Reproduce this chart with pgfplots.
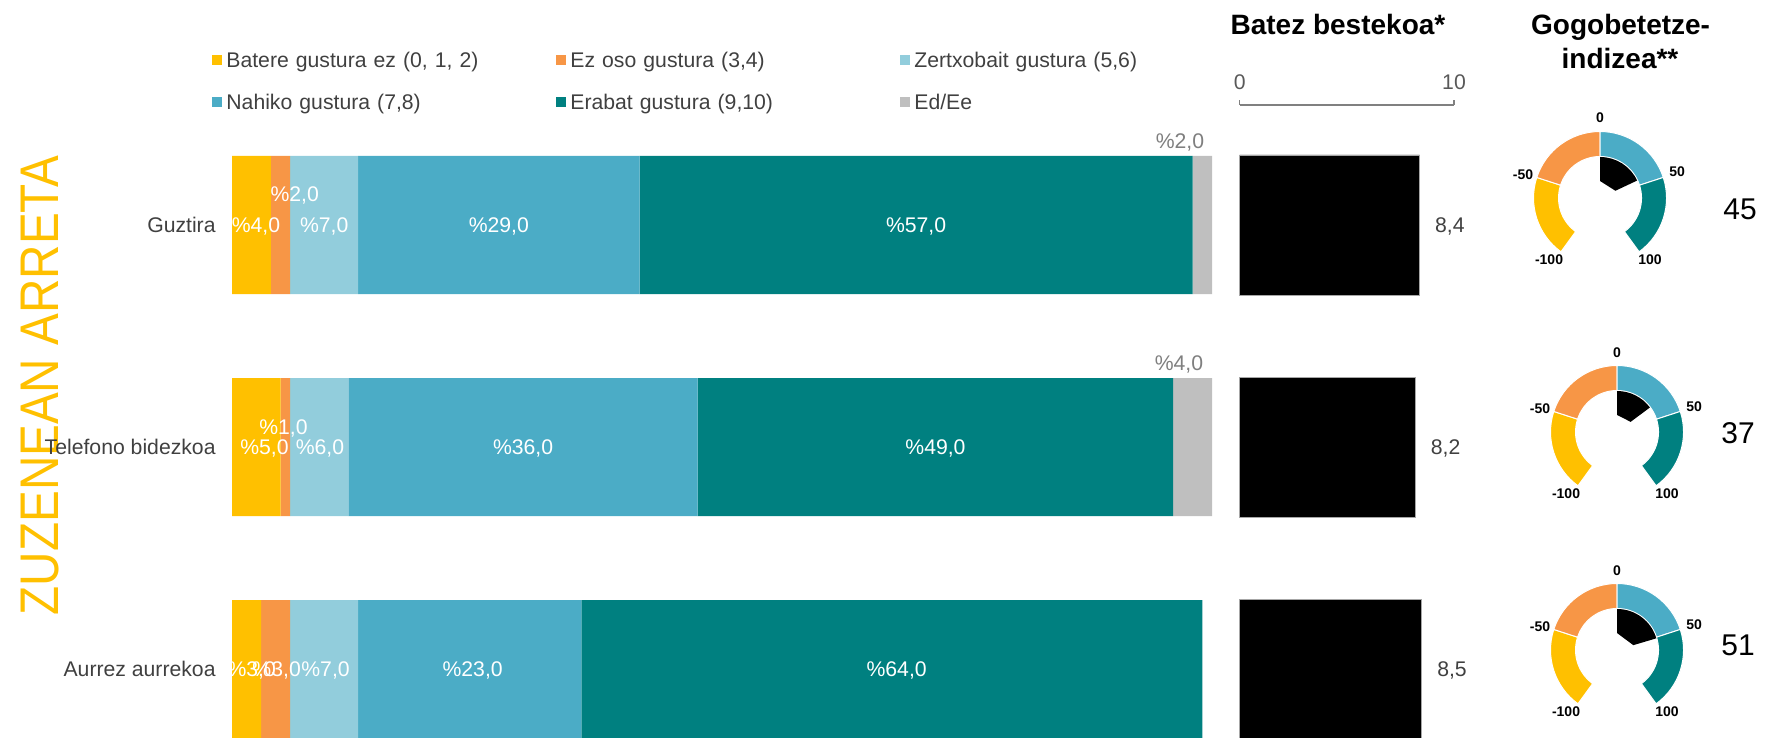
\documentclass[border=0pt]{standalone}
\usepackage{fontspec}
\setmainfont{Liberation Sans}
\usepackage{graphicx}
\usepackage{pgfplots}
\pgfplotsset{compat=1.18}

\definecolor{ylw}{HTML}{FFC000}
\definecolor{org}{HTML}{F79646}
\definecolor{lbl}{HTML}{92CDDC}
\definecolor{blu}{HTML}{4BACC6}
\definecolor{tea}{HTML}{008080}
\definecolor{gry}{HTML}{BFBFBF}
\definecolor{txt}{HTML}{404040}
\definecolor{lgray}{HTML}{7F7F7F}
\definecolor{axgray}{HTML}{808080}
\definecolor{tkgray}{HTML}{595959}

\newcommand\lab{\fontsize{10.6}{12.7}\selectfont}
\newcommand\ttl{\fontsize{14}{17}\selectfont\bfseries}
\newcommand\gfont{\fontsize{7}{8.4}\selectfont\bfseries}
\newcommand\ifont{\fontsize{15}{18}\selectfont}

\tikzset{
  wl/.style={text=white, font=\lab, inner sep=0pt, text height=7.6pt, text depth=0pt},
  gyl/.style={text=lgray, font=\lab, inner sep=0pt, text height=7.6pt, text depth=0pt},
  gl/.style={text=black, font=\gfont, inner sep=0pt, text height=5pt, text depth=0pt},
  idx/.style={text=black, font=\ifont, inner sep=0pt, text height=10.7pt, text depth=0pt},
}

% shared geometry of the stacked-bar panel
\pgfplotsset{distframe/.style={
  at={(116pt,-334.5pt)}, anchor=origin,
  x=4.85149pt, y=111pt,
  xmin=0, xmax=101, ymin=-0.5, ymax=2.5,
  enlargelimits=false, clip=false}}

% one ring segment of a gauge: centre (#1,#2), from angle #3 to #4, colour #5
\newcommand{\gseg}[5]{%
  \filldraw[fill=#5, draw=white, line width=0.5pt]
    (axis cs:#1,#2) ++(#3:33.25pt) arc[start angle=#3, end angle=#4, radius=33.25pt]
    -- ++(#4:-12.5pt) arc[start angle=#4, end angle=#3, radius=20.75pt] -- cycle;}

% gauge from -100 (234 deg) to 100 (-54 deg); needle sector for value #3
\newcommand{\gauge}[3]{%
  \gseg{#1}{#2}{234}{162}{ylw}
  \gseg{#1}{#2}{162}{90}{org}
  \gseg{#1}{#2}{90}{18}{blu}
  \gseg{#1}{#2}{18}{-54}{tea}
  \fill[black] (axis cs:#1,#2) ++(90:8.5pt) -- ++(90:12pt)
    arc[start angle=90, end angle={90-1.44*#3}, radius=20.5pt]
    -- ++({90-1.44*#3}:-12pt) -- cycle;
  \node[gl] at ([shift={(0pt,40pt)}]axis cs:#1,#2) {0};
  \node[gl] at ([shift={(-38.5pt,12pt)}]axis cs:#1,#2) {-50};
  \node[gl] at ([shift={(38.5pt,13pt)}]axis cs:#1,#2) {50};
  \node[gl] at ([shift={(-25.5pt,-30.5pt)}]axis cs:#1,#2) {-100};
  \node[gl] at ([shift={(25pt,-30.5pt)}]axis cs:#1,#2) {100};
}

\begin{document}
\begin{tikzpicture}
\path[use as bounding box] (0pt,0pt) rectangle (883.5pt,-369pt);

% section title
\node[text=ylw, rotate=90, inner sep=0pt, text height=19.5pt, text depth=0pt,
      font=\fontsize{27.2}{30}\selectfont] at (19.5pt,-192.75pt)
      {\scalebox{0.876}[1]{ZUZENEAN ARRETA}};

% column titles
\node[font=\ttl, anchor=base, inner sep=0pt] at (669pt,-17.4pt) {Batez bestekoa*};
\node[font=\ttl, anchor=base, inner sep=0pt] at (810.3pt,-17.4pt) {Gogobetetze-};
\node[font=\ttl, anchor=base, inner sep=0pt] at (810pt,-34.3pt) {indizea**};

% distribution of answers
\begin{axis}[
  distframe,
  xbar stacked, bar width=69pt,
  axis line style={draw=none}, tick style={draw=none},
  xtick=\empty, ytick={0,1,2},
  yticklabels={Aurrez aurrekoa,Telefono bidezkoa,Guztira},
  yticklabel style={font=\lab, text=txt, inner sep=0pt, text height=7.6pt,
                    text depth=0pt, anchor=east, xshift=-8pt},
  legend columns=3,
  legend cell align=left,
  legend image code/.code={\fill[#1] (0pt,-2.6pt) rectangle (5.2pt,2.6pt);},
  legend style={at={(-0.0204,1.0925)}, anchor=north west, draw=none, fill=none,
    inner sep=0pt, outer sep=0pt, row sep=13.4pt, font=\lab, text=txt,
    /tikz/every odd column/.append style={column sep=2pt},
    nodes={inner sep=0pt, text height=7.6pt, text depth=0pt, text width=164.8pt, align=left}},
]
\addplot[fill=ylw, draw=none] coordinates {(4,2) (5,1) (3,0)};
\addlegendentry{Batere gustura ez (0, 1, 2)}
\addplot[fill=org, draw=none] coordinates {(2,2) (1,1) (3,0)};
\addlegendentry{Ez oso gustura (3,4)}
\addplot[fill=lbl, draw=none] coordinates {(7,2) (6,1) (7,0)};
\addlegendentry{Zertxobait gustura (5,6)}
\addplot[fill=blu, draw=none] coordinates {(29,2) (36,1) (23,0)};
\addlegendentry{Nahiko gustura (7,8)}
\addplot[fill=tea, draw=none] coordinates {(57,2) (49,1) (64,0)};
\addlegendentry{Erabat gustura (9,10)}
\addplot[fill=gry, draw=none] coordinates {(2,2) (4,1) (0,0)};
\addlegendentry{Ed/Ee}
\end{axis}

% segment labels, in the same frame, drawn over the bars
\begin{axis}[distframe, hide axis]
\node[wl] at (axis cs:2.47,2) {\%4,0};
\node[wl] at ([yshift=15.5pt]axis cs:6.46,2) {\%2,0};
\node[wl] at (axis cs:9.5,2) {\%7,0};
\node[wl] at (axis cs:27.5,2) {\%29,0};
\node[wl] at (axis cs:70.5,2) {\%57,0};
\node[gyl] at ([yshift=42pt]axis cs:97.7,2) {\%2,0};

\node[wl] at (axis cs:3.35,1) {\%5,0};
\node[wl] at ([yshift=10pt]axis cs:5.3,1) {\%1,0};
\node[wl] at (axis cs:9.07,1) {\%6,0};
\node[wl] at (axis cs:30,1) {\%36,0};
\node[wl] at (axis cs:72.5,1) {\%49,0};
\node[gyl] at ([yshift=42pt]axis cs:97.6,1) {\%4,0};

\node[wl] at (axis cs:2.03,0) {\%3,0};
\node[wl] at (axis cs:4.6,0) {\%3,0};
\node[wl] at (axis cs:9.64,0) {\%7,0};
\node[wl] at (axis cs:24.8,0) {\%23,0};
\node[wl] at (axis cs:68.5,0) {\%64,0};
\end{axis}

% mean score (0-10)
\begin{axis}[
  at={(619.85pt,-334.5pt)}, anchor=origin,
  x=10.715pt, y=111pt,
  xmin=0, xmax=10, ymin=-0.5, ymax=2.5405,
  enlargelimits=false,
  xbar, bar width=70pt,
  axis x line*=top, axis y line=none,
  axis line style={draw=axgray, line width=0.6pt},
  xtick={0,10}, xticklabels={0,10},
  tick align=outside, major tick length=2.5pt,
  xtick style={draw=axgray, line width=0.6pt},
  xticklabel style={font=\lab, text=tkgray, inner sep=0pt, text height=7.6pt,
                    text depth=0pt, anchor=south, yshift=5pt},
  ytick=\empty,
  clip=false,
  /pgf/number format/.cd, use comma, fixed, fixed zerofill, precision=1,
  assume math mode=true,
]
\addplot[fill=black, draw=gray!70, line width=0.4pt,
  nodes near coords, point meta=x,
  every node near coord/.append style={font=\lab, text=txt, inner sep=0pt,
    text height=7.6pt, text depth=0pt, anchor=west, xshift=7.5pt}]
  coordinates {(8.4,2) (8.2,1) (8.5,0)};
\end{axis}

% satisfaction index gauges
\begin{axis}[
  at={(0pt,0pt)}, anchor=origin,
  x=0.5pt, y=0.5pt,
  xmin=0, xmax=1767, ymin=-738, ymax=0,
  enlargelimits=false, hide axis, clip=false,
]
\gauge{1600}{-198}{45}
\gauge{1617}{-432}{37}
\gauge{1617}{-650}{51}
\node[idx] at (axis cs:1740,-208.5) {45};
\node[idx] at (axis cs:1738,-433) {37};
\node[idx] at (axis cs:1738,-645) {51};
\end{axis}
\end{tikzpicture}
\end{document}
